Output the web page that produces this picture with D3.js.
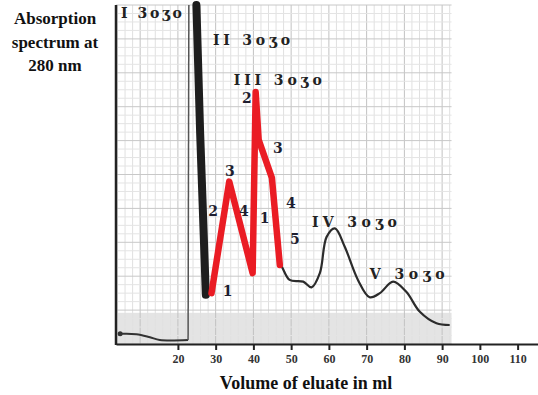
<!DOCTYPE html>
<html><head><meta charset="utf-8">
<script src="https://cdn.jsdelivr.net/npm/d3@7"></script>
<style>body{margin:0;background:#fff}svg{display:block}</style>
</head><body>
<svg id="chart" width="538" height="395"></svg>
<script>
// Elution volume (ml) and absorbance at 280 nm for each trace segment
const baseVolume = [4.7, 9.0, 12.6, 15.2, 22.7];
const baseAbs = [0.030, 0.029, 0.020, 0.012, 0.012];
const riseVolume = [22.7, 22.9];
const riseAbs = [0.012, 1.0];
const peakIVolume = [24.9, 25.9, 27.4];
const peakIAbs = [1.0, 0.62, 0.145];
const fracVolume = [28.9, 33.6, 39.8, 40.6, 41.4, 44.9, 47.0];
const fracAbs = [0.150, 0.479, 0.209, 0.743, 0.602, 0.490, 0.233];
const tailVolume = [47.0, 47.5, 49.6, 53.2, 55.4, 57.6, 59.4, 61.6, 64.2, 67.7, 70.8, 73.5, 77.0, 80.5, 84.1, 88.5, 92.0];
const tailAbs = [0.233, 0.228, 0.189, 0.184, 0.167, 0.209, 0.316, 0.341, 0.287, 0.189, 0.138, 0.150, 0.184, 0.154, 0.095, 0.061, 0.056];

const xTicks = [20, 30, 40, 50, 60, 70, 80, 90, 100, 110];

// Peak names
const peakNames = ["I 3oʒo", "II 3oʒo", "III 3oʒo", "IV 3oʒo", "V 3oʒo"];
const peakNameVolume = [4.9, 29.3, 34.8, 55.5, 70.8];
const peakNameAbs = [0.962, 0.882, 0.765, 0.345, 0.192];

// Fraction numbers along the collected region
const fracLabels = ["2", "3", "3", "2", "4", "1", "4", "5", "1"];
const fracLabelVolume = [38.3, 33.8, 46.5, 29.3, 37.5, 43.0, 49.9, 51.0, 33.2];
const fracLabelAbs = [0.712, 0.497, 0.563, 0.378, 0.378, 0.357, 0.401, 0.295, 0.142];

const svg = d3.select("#chart");
const x = d3.scaleLinear().domain([3.6, 115.4]).range([116, 538]);
const y = d3.scaleLinear().domain([0, 1]).range([344, 5]);
const gridEnd = 92.5;
const serif = "'Liberation Serif', 'DejaVu Serif', serif";
const wideSerif = "'DejaVu Serif', serif";

// chart paper: shaded base band and grid
svg.append("rect")
  .attr("x", x(3.6)).attr("y", y(0.092))
  .attr("width", x(gridEnd) - x(3.6)).attr("height", y(0) - y(0.092))
  .attr("fill", "#e4e4e4");

const g = svg.append("g");
for (let v = 4; v <= 92; v += 2) {
  g.append("line")
    .attr("x1", x(v)).attr("x2", x(v)).attr("y1", y(1)).attr("y2", y(0))
    .attr("stroke", v % 10 === 0 ? "#c2c2c2" : "#e0e0e0")
    .attr("stroke-width", 1);
}
for (let i = 0; i <= 40; i++) {
  const a = i * 0.025;
  g.append("line")
    .attr("x1", x(3.6)).attr("x2", x(gridEnd)).attr("y1", y(a)).attr("y2", y(a))
    .attr("stroke", i % 4 === 0 ? "#c8c8c8" : "#e4e4e4")
    .attr("stroke-width", 1);
}

// axes
svg.append("line")
  .attr("x1", x(3.6)).attr("x2", x(3.6)).attr("y1", y(1)).attr("y2", y(0) + 1)
  .attr("stroke", "#222").attr("stroke-width", 2.5);

const xAxis = d3.axisBottom(x).tickValues(xTicks).tickSize(6).tickSizeOuter(0);
const ax = svg.append("g").attr("transform", `translate(0,${y(0)})`).call(xAxis);
ax.select(".domain").attr("stroke", "#222").attr("stroke-width", 2.2);
ax.selectAll(".tick line").attr("stroke", "#222").attr("stroke-width", 2);
ax.selectAll(".tick text")
  .attr("font-family", serif).attr("font-weight", "bold")
  .attr("font-size", 12).attr("fill", "#333").attr("dy", "0.85em");

// traces
const pts = (vs, as) => vs.map((v, i) => [v, as[i]]);
const line = d3.line().x(d => x(d[0])).y(d => y(d[1]));
const smooth = d3.line().x(d => x(d[0])).y(d => y(d[1])).curve(d3.curveCatmullRom.alpha(0.5));

svg.append("path").datum(pts(baseVolume, baseAbs)).attr("d", smooth)
  .attr("fill", "none").attr("stroke", "#333").attr("stroke-width", 2);
svg.append("circle").attr("cx", x(baseVolume[0])).attr("cy", y(baseAbs[0])).attr("r", 2.5).attr("fill", "#333");
svg.append("path").datum(pts(riseVolume, riseAbs)).attr("d", line)
  .attr("fill", "none").attr("stroke", "#555").attr("stroke-width", 1.5);
svg.append("path").datum(pts(peakIVolume, peakIAbs)).attr("d", line)
  .attr("fill", "none").attr("stroke", "#1e1e1e").attr("stroke-width", 8)
  .attr("stroke-linejoin", "round").attr("stroke-linecap", "round");
svg.append("path").datum(pts(tailVolume, tailAbs)).attr("d", smooth)
  .attr("fill", "none").attr("stroke", "#2b2b2b").attr("stroke-width", 2.2);
svg.append("path").datum(pts(fracVolume, fracAbs)).attr("d", line)
  .attr("fill", "none").attr("stroke", "#ea1c24").attr("stroke-width", 6.5)
  .attr("stroke-linejoin", "round").attr("stroke-linecap", "round");

// peak names
const nameWidths = [61, 77, 88, 85, 75];
peakNames.forEach((t, i) => {
  svg.append("text")
    .attr("x", x(peakNameVolume[i])).attr("y", y(peakNameAbs[i]))
    .attr("font-family", wideSerif).attr("font-weight", "bold").attr("font-size", 14)
    .attr("fill", "#222").attr("textLength", nameWidths[i]).attr("lengthAdjust", "spacing")
    .text(t);
});

// fraction numbers
fracLabels.forEach((t, i) => {
  svg.append("text")
    .attr("x", x(fracLabelVolume[i])).attr("y", y(fracLabelAbs[i]))
    .attr("text-anchor", "middle")
    .attr("font-family", wideSerif).attr("font-weight", "bold").attr("font-size", 14)
    .attr("fill", "#1e1e30").text(t);
});

// titles
const yTitle = ["Absorption", "spectrum at", "280 nm"];
yTitle.forEach((t, i) => {
  svg.append("text")
    .attr("x", 55).attr("y", 24 + i * 23.5).attr("text-anchor", "middle")
    .attr("font-family", serif).attr("font-weight", "bold").attr("font-size", 17)
    .attr("fill", "#111").text(t);
});
svg.append("text")
  .attr("x", 306).attr("y", 389).attr("text-anchor", "middle")
  .attr("font-family", serif).attr("font-weight", "bold").attr("font-size", 18)
  .attr("fill", "#111").text("Volume of eluate in ml");
</script>
</body></html>
